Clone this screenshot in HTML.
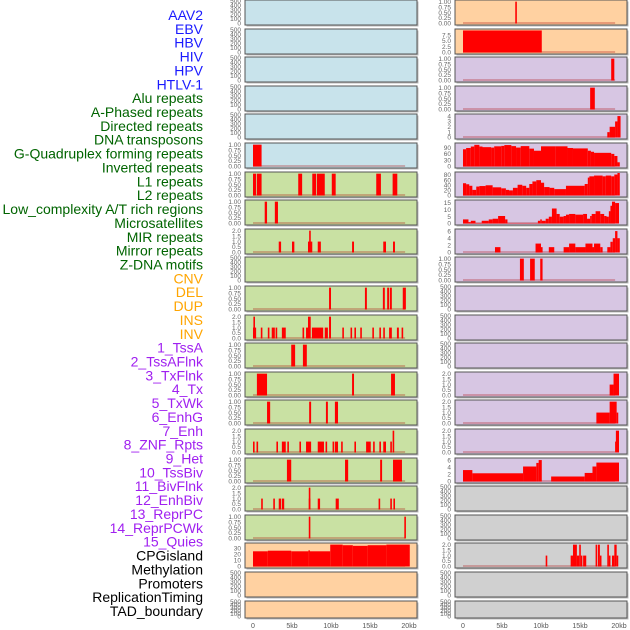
<!DOCTYPE html>
<html><head><meta charset="utf-8"><style>
html,body{margin:0;padding:0;background:#fff;width:630px;height:630px;overflow:hidden}
svg text{font-family:"Liberation Sans",sans-serif}
</style></head><body>
<svg id="chart" width="630" height="630" viewBox="0 0 630 630" xmlns="http://www.w3.org/2000/svg"></svg>
<script>
// ---------- labels ----------
const trackLabels = ["AAV2","EBV","HBV","HIV","HPV","HTLV-1","Alu repeats","A-Phased repeats","Directed repeats","DNA transposons","G-Quadruplex forming repeats","Inverted repeats","L1 repeats","L2 repeats","Low_complexity A/T rich regions","Microsatellites","MIR repeats","Mirror repeats","Z-DNA motifs","CNV","DEL","DUP","INS","INV","1_TssA","2_TssAFlnk","3_TxFlnk","4_Tx","5_TxWk","6_EnhG","7_Enh","8_ZNF_Rpts","9_Het","10_TssBiv","11_BivFlnk","12_EnhBiv","13_ReprPC","14_ReprPCWk","15_Quies","CPGisland","Methylation","Promoters","ReplicationTiming","TAD_boundary"];
const labelGroups = ["v","v","v","v","v","v","r","r","r","r","r","r","r","r","r","r","r","r","r","s","s","s","s","s","c","c","c","c","c","c","c","c","c","c","c","c","c","c","c","o","o","o","o","o"];
const xTickValues = [0,5,10,15,20];
const xTickLabels = ["0","5kb","10kb","15kb","20kb"];

// ---------- tick sets ----------
const ticksEmpty = [0,100,200,300,400,500];
const ticksUnit = [0,0.25,0.5,0.75,1];
const ticksTwo = [0,0.5,1,1.5,2];
const ticksEBV = [0,2.5,5,7.5];
const ticksFour = [0,1,2,3,4];
const ticksGQ = [0,30,60,90];
const ticksL1 = [0,20,40,60,80];
const ticksLow = [0,5,10,15];
const ticksSix = [0,2,4,6];
const ticksCpg = [0,10,20,30];

// ---------- series: [startKb, endKb, value] ----------
const leftGQuad = [[0,1.1,1]];
const leftL1 = [[0,0.4,1],[0.5,1.1,1],[5.8,6.3,1],[7.6,8.1,1],[8.2,9.2,1],[10.1,10.6,1],[15.8,16.4,1],[17.9,18.5,1]];
const leftL2 = [[1.5,1.8,1],[2.8,3.2,1]];
const leftLowComplexity = [[3.3,3.6,1],[5.0,5.3,1],[7.05,7.6,1],[7.2,7.35,2],[8.3,8.7,1],[12.7,12.95,1],[16.7,17.05,1],[17.95,18.2,1]];
const leftMIR = [[9.75,10.0,1],[14.35,14.6,1],[16.65,16.9,1],[17.2,17.45,1],[17.55,17.8,1],[19.2,19.6,1]];
const leftMirror = [[0,0.4,1],[0.05,0.25,2],[1.0,1.2,1],[1.9,2.1,1],[2.4,2.8,1],[2.9,3.1,1],[3.7,4.2,1],[6.35,6.55,1],[6.8,7.3,1],[7.05,7.4,2],[7.55,9.0,1],[9.2,9.6,1],[9.75,10.0,2],[11.45,11.65,1],[12.5,12.7,1],[13.0,13.2,1],[13.75,13.95,1],[15.3,15.5,1],[16.2,16.4,1],[16.7,16.9,1],[17.45,17.8,1],[18.45,18.7,1],[19.05,19.25,1]];
const leftZDNA = [[4.9,5.4,1],[6.4,6.9,1]];
const leftCNV = [[0.5,1.8,1],[12.7,12.95,1],[17.7,18.2,1]];
const leftDEL = [[1.8,2.2,1],[7.2,7.45,1],[9.35,9.6,1],[10.5,10.9,1]];
const leftDUP = [[0,0.2,1],[0.45,0.65,1],[3.0,3.2,1],[3.7,4.2,1],[4.4,4.6,1],[5.95,6.15,1],[6.8,7.45,1],[8.3,9.1,1],[9.3,9.5,1],[10.2,10.4,1],[10.5,10.9,1],[11.3,11.5,1],[13.0,13.2,1],[14.5,15.1,1],[15.4,15.6,1],[16.2,16.4,1],[16.7,17.05,1],[17.6,17.8,1],[17.9,18.1,2]];
const leftINS = [[4.35,4.9,1],[11.8,12.2,1],[16.3,16.55,1],[17.95,19.1,1]];
const leftINV = [[1.05,1.25,1],[2.6,2.8,1],[3.3,3.6,1],[3.7,4.0,1],[7.15,7.35,1],[7.15,7.25,2],[8.3,8.6,1],[10.6,11.0,1],[16.1,16.3,1],[17.6,17.8,1],[18.0,18.2,1]];
const leftTssA = [[7.15,7.35,1],[19.4,19.6,1]];
const leftCpg = [[0,1.9,25],[1.9,4.9,26],[4.9,7.1,25],[7.1,7.3,26.5],[7.3,9.9,25],[9.9,11.5,36],[11.5,12.8,35],[12.8,14.7,34],[14.7,17.1,35],[17.1,20.1,36]];

const rightINS = [[6.7,6.85,1]];
const rightINV = [[0,10.1,9.5]];
const rightTssA = [[19.0,19.4,1]];
const rightTssAFlnk = [[16.3,16.9,1]];
const rightTxFlnk = [[18.5,18.8,1],[18.8,19.5,2],[19.5,19.8,3],[19.8,20.2,4]];
const rightTx = [[0,0.4,82],[0.4,1,88],[1,1.45,95],[1.45,2.1,103],[2.1,2.5,95],[2.5,3.6,92],[3.6,4,90],[4,4.9,96],[4.9,5.3,98],[5.3,6.2,102],[6.2,6.8,97],[6.8,7.4,90],[7.4,8.5,97],[8.5,9.1,85],[9.1,10,75],[10,11.9,96],[11.9,13.4,96],[13.4,14.1,88],[14.1,16,86],[16,16.4,75],[16.4,16.8,70],[16.8,19,65],[19,19.4,60],[19.4,19.8,50],[19.8,20.1,20]];
const rightTxWk = [[0,0.4,48],[0.4,0.8,44],[0.8,1.2,38],[1.2,1.7,22],[1.7,2.1,35],[2.1,2.9,37],[2.9,3.8,40],[3.8,4.9,32],[4.9,5.5,28],[5.5,5.9,22],[5.9,6.4,20],[6.4,7.0,30],[7.0,7.6,42],[7.6,8.1,38],[8.1,8.5,30],[8.5,8.9,45],[8.9,9.4,55],[9.4,10.0,60],[10.0,10.4,50],[10.4,11.1,33],[11.1,11.7,30],[11.7,13.2,25],[13.2,15.6,38],[15.6,16.0,45],[16.0,16.2,70],[16.2,16.8,75],[16.8,17.9,78],[17.9,18.3,75],[18.3,19.0,78],[19.0,19.4,75],[19.4,19.8,82],[19.8,20.1,88]];
const rightEnhG = [[0,0.7,3],[0.7,1.0,1],[1.0,1.6,2],[1.6,2.4,0.3],[2.4,3.3,2],[3.3,3.8,3],[3.8,4.5,3.5],[4.5,5.4,5.5],[5.4,5.7,3],[5.7,9.6,0.2],[9.6,9.9,2],[9.9,10.1,3],[10.1,10.6,2],[10.6,11.0,3.5],[11.0,11.4,5],[11.4,12.0,11],[12.0,12.4,7],[12.4,12.9,5],[12.9,13.2,5.5],[13.2,13.6,6.5],[13.6,14.4,7],[14.4,15.4,6.5],[15.4,15.9,7],[15.9,16.3,3.5],[16.3,16.5,5.5],[16.5,17.0,7],[17.0,17.6,9],[17.6,18.1,7],[18.1,18.4,5.5],[18.4,18.7,5],[18.7,18.9,9],[18.9,19.1,13],[19.1,19.5,16],[19.5,20.0,15]];
const rightEnh = [[4.1,4.8,1.5],[9.3,10.0,2.5],[10.0,10.1,1.5],[11.0,11.7,1.5],[12.9,13.6,1.5],[13.6,14.4,2.5],[14.4,15.7,1.5],[15.7,16.6,2.5],[16.6,16.8,1.5],[16.8,17.6,2.5],[17.6,17.9,1.5],[18.5,18.9,1.5],[18.9,19.2,3],[19.2,19.5,4],[19.5,19.8,6],[19.8,20.1,4]];
const rightZNF = [[7.3,7.8,1],[8.6,9.2,1],[9.9,10.2,1]];
const rightBivFlnk = [[18.8,19.3,1],[19.3,20.0,2]];
const rightEnhBiv = [[17.1,18.8,1],[18.8,19.7,2],[19.7,19.85,1]];
const rightReprPC = [[19.5,19.6,1],[19.6,20.0,2]];
const rightReprPCWk = [[0,1.2,3.2],[1.2,7.7,2.3],[7.7,9.4,4.2],[9.4,9.7,5.2],[9.7,10.1,6],[11.3,15.6,1.4],[15.6,16.6,2.4],[16.6,17.1,4.2],[17.1,20.0,5.3]];
const rightMethylation = [[10.6,10.8,1],[13.8,14.1,1],[14.1,14.6,2],[14.6,14.9,1],[14.9,15.1,2],[15.1,15.3,1],[15.4,15.8,1],[17.0,17.15,2],[17.3,17.55,2],[17.55,17.7,1],[18.5,18.7,2],[18.7,18.85,1],[19.1,19.4,1],[19.4,19.7,2],[19.7,19.9,1]];

// ---------- panel configuration ----------
const BLUE="#c8e3eb", GREEN="#c9e1a3", PEACH="#ffd1a1", PURPLE="#d7c6e3", GRAY="#d0d0d0";
const leftPanels = [
 {name:"aav2",bg:BLUE,ticks:ticksEmpty,max:500,data:null},
 {name:"hbv",bg:BLUE,ticks:ticksEmpty,max:500,data:null},
 {name:"hpv",bg:BLUE,ticks:ticksEmpty,max:500,data:null},
 {name:"htlv1",bg:BLUE,ticks:ticksEmpty,max:500,data:null},
 {name:"a-phased",bg:BLUE,ticks:ticksEmpty,max:500,data:null},
 {name:"g-quadruplex",bg:BLUE,ticks:ticksUnit,max:1.03,data:leftGQuad,fmt:2},
 {name:"l1",bg:GREEN,ticks:ticksUnit,max:1.03,data:leftL1,fmt:2},
 {name:"l2",bg:GREEN,ticks:ticksUnit,max:1.03,data:leftL2,fmt:2},
 {name:"low-complexity",bg:GREEN,ticks:ticksTwo,max:2.06,data:leftLowComplexity,fmt:1},
 {name:"microsatellites",bg:GREEN,ticks:ticksEmpty,max:500,data:null},
 {name:"mir",bg:GREEN,ticks:ticksUnit,max:1.03,data:leftMIR,fmt:2},
 {name:"mirror",bg:GREEN,ticks:ticksTwo,max:2.06,data:leftMirror,fmt:1},
 {name:"z-dna",bg:GREEN,ticks:ticksUnit,max:1.03,data:leftZDNA,fmt:2},
 {name:"cnv",bg:GREEN,ticks:ticksUnit,max:1.03,data:leftCNV,fmt:2},
 {name:"del",bg:GREEN,ticks:ticksUnit,max:1.03,data:leftDEL,fmt:2},
 {name:"dup",bg:GREEN,ticks:ticksTwo,max:2.06,data:leftDUP,fmt:1},
 {name:"ins",bg:GREEN,ticks:ticksUnit,max:1.03,data:leftINS,fmt:2},
 {name:"inv",bg:GREEN,ticks:ticksTwo,max:2.06,data:leftINV,fmt:1},
 {name:"tssa",bg:GREEN,ticks:ticksUnit,max:1.03,data:leftTssA,fmt:2},
 {name:"cpgisland",bg:PEACH,ticks:ticksCpg,max:37,data:leftCpg,fmt:0},
 {name:"promoters",bg:PEACH,ticks:ticksEmpty,max:500,data:null},
 {name:"tad-boundary",bg:PEACH,ticks:ticksEmpty,max:500,data:null}
];
const rightPanels = [
 {name:"ins",bg:PEACH,ticks:ticksUnit,max:1.03,data:rightINS,fmt:2},
 {name:"inv",bg:PEACH,ticks:ticksEBV,max:9.7,data:rightINV,fmt:1},
 {name:"tssa",bg:PURPLE,ticks:ticksUnit,max:1.03,data:rightTssA,fmt:2},
 {name:"tssaflnk",bg:PURPLE,ticks:ticksUnit,max:1.03,data:rightTssAFlnk,fmt:2},
 {name:"txflnk",bg:PURPLE,ticks:ticksFour,max:4.2,data:rightTxFlnk,fmt:0},
 {name:"tx",bg:PURPLE,ticks:ticksGQ,max:107,data:rightTx,fmt:0},
 {name:"txwk",bg:PURPLE,ticks:ticksL1,max:88,data:rightTxWk,fmt:0},
 {name:"enhg",bg:PURPLE,ticks:ticksLow,max:16.5,data:rightEnhG,fmt:0},
 {name:"enh",bg:PURPLE,ticks:ticksSix,max:6.3,data:rightEnh,fmt:0},
 {name:"znf-rpts",bg:PURPLE,ticks:ticksUnit,max:1.03,data:rightZNF,fmt:2},
 {name:"het",bg:PURPLE,ticks:ticksEmpty,max:500,data:null},
 {name:"tssbiv",bg:PURPLE,ticks:ticksEmpty,max:500,data:null},
 {name:"bivflnk-empty",bg:PURPLE,ticks:ticksEmpty,max:500,data:null},
 {name:"bivflnk",bg:PURPLE,ticks:ticksTwo,max:2.06,data:rightBivFlnk,fmt:1},
 {name:"enhbiv",bg:PURPLE,ticks:ticksTwo,max:2.06,data:rightEnhBiv,fmt:1},
 {name:"reprpc",bg:PURPLE,ticks:ticksTwo,max:2.06,data:rightReprPC,fmt:1},
 {name:"reprpcwk",bg:PURPLE,ticks:ticksSix,max:6.3,data:rightReprPCWk,fmt:0},
 {name:"quies",bg:GRAY,ticks:ticksEmpty,max:500,data:null},
 {name:"cpg-right",bg:GRAY,ticks:ticksEmpty,max:500,data:null},
 {name:"methylation",bg:GRAY,ticks:ticksTwo,max:2.06,data:rightMethylation,fmt:1},
 {name:"replication-timing",bg:GRAY,ticks:ticksEmpty,max:500,data:null},
 {name:"tad",bg:GRAY,ticks:ticksEmpty,max:500,data:null}
];

// ---------- drawing ----------
const NS="http://www.w3.org/2000/svg";
const svg=document.getElementById("chart");
function mk(tag,attrs,parent){const e=document.createElementNS(NS,tag);for(const k in attrs)e.setAttribute(k,attrs[k]);(parent||svg).appendChild(e);return e;}
const groupColor={v:"#1a1aff",r:"#006400",s:"#ffa500",c:"#a020f0",o:"#000000"};

trackLabels.forEach((t,i)=>{
  const el=mk("text",{x:203,y:20+i*13.86,"text-anchor":"end","font-size":"14",fill:groupColor[labelGroups[i]]});
  el.textContent=t;
  
  
});

function rowGeom(i){const top=Math.round(i*28.6);const h=(i===21)?17:25;return {top,h};}

function drawPanel(p,i,px0,pw,x0,side){
  const {top,h}=rowGeom(i);
  const g=mk("g",{});
  
  
  mk("rect",{x:px0+1.5,y:top+1.5,width:pw,height:h,fill:"#bbb"},g);
  mk("rect",{x:px0,y:top,width:pw,height:h,fill:p.bg,stroke:"#555","stroke-width":1},g);
  const bottom=top+h-1.5, ytop=top+1;
  const yS=v=>bottom-(v/p.max)*(bottom-ytop);
  const xS=kb=>x0+kb*7.8;
  p.ticks.forEach(t=>{
    const lbl=mk("text",{x:px0-4,y:yS(t)+2.2,"text-anchor":"end","font-size":"6.5",fill:"#666"},g);
    lbl.textContent=p.fmt===2?t.toFixed(2):(p.fmt===1?t.toFixed(1):String(t));
    
    
  });
  if(p.data){
    mk("line",{x1:xS(0),x2:xS(19.5),y1:bottom-0.5,y2:bottom-0.5,stroke:"rgba(170,0,0,0.35)","stroke-width":1.5},g);
    p.data.forEach(d=>{
      const x1=xS(d[0]),x2=xS(d[1]);
      const w=Math.max(1.6,x2-x1);
      const y=yS(d[2]);
      const r=mk("rect",{x:x1,y:y,width:w,height:Math.max(0,bottom-y),fill:"#ff0000"},g);
      
      
    });
  }
}
leftPanels.forEach((p,i)=>drawPanel(p,i,245,172,253,"left"));
rightPanels.forEach((p,i)=>drawPanel(p,i,455,172,463,"right"));

[[253,"left"],[463,"right"]].forEach(([x0,side])=>{
  xTickValues.forEach((v,k)=>{
    const t=mk("text",{x:x0+v*7.8,y:628,"text-anchor":"middle","font-size":"7",fill:"#555"});
    t.textContent=xTickLabels[k];
    
    
  });
});
</script>
</body></html>
